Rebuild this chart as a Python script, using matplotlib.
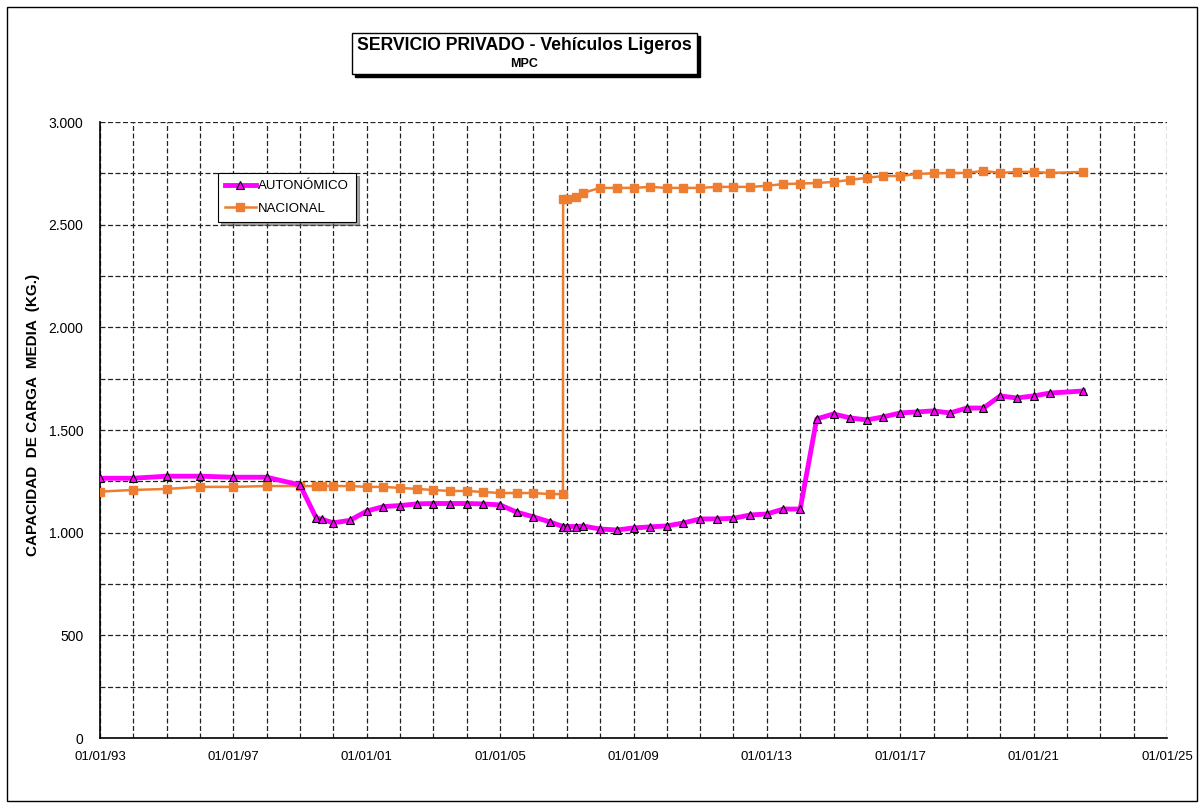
import datetime as dt

import matplotlib
matplotlib.use("Agg")
import matplotlib.pyplot as plt
import matplotlib.dates as mdates
from matplotlib.patches import Rectangle
from matplotlib.ticker import FuncFormatter, MultipleLocator, FixedLocator

plt.rcParams['font.family'] = ['Liberation Sans', 'DejaVu Sans']

# fechas de los datos (comunes a las dos series)
fechas = [
    "1993-01-01", "1994-01-01", "1995-01-01", "1996-01-01", "1997-01-01",
    "1998-01-01", "1999-01-01", "1999-06-28", "1999-08-30", "2000-01-01",
    "2000-07-01", "2001-01-01", "2001-07-01", "2002-01-01", "2002-07-01",
    "2003-01-01", "2003-07-01", "2004-01-01", "2004-07-01", "2005-01-01",
    "2005-07-01", "2006-01-01", "2006-07-01", "2006-11-20", "2006-11-22",
    "2007-01-01", "2007-04-10", "2007-07-01", "2008-01-01", "2008-07-01",
    "2009-01-01", "2009-07-01", "2010-01-01", "2010-07-01", "2011-01-01",
    "2011-07-01", "2012-01-01", "2012-07-01", "2013-01-01", "2013-07-01",
    "2014-01-01", "2014-07-01", "2015-01-01", "2015-07-01", "2016-01-01",
    "2016-07-01", "2017-01-01", "2017-07-01", "2018-01-01", "2018-07-01",
    "2019-01-01", "2019-07-01", "2020-01-01", "2020-07-01", "2021-01-01",
    "2021-07-01", "2022-07-01",
]

autonomico = [
    1265, 1265, 1275, 1275, 1270, 1270, 1232, 1071, 1065, 1048,
    1060, 1105, 1127, 1132, 1140, 1142, 1142, 1142, 1140, 1135,
    1100, 1077, 1052, 1030, 1030, 1030, 1030, 1032, 1018, 1013,
    1023, 1028, 1033, 1047, 1067, 1067, 1070, 1086, 1091, 1115,
    1115, 1554, 1578, 1559, 1549, 1564, 1583, 1588, 1593, 1583,
    1607, 1607, 1666, 1656, 1666, 1680, 1690,
]

nacional = [
    1200, 1208, 1213, 1223, 1223, 1227, 1227, 1227, 1227, 1227,
    1227, 1223, 1223, 1218, 1213, 1208, 1203, 1203, 1198, 1193,
    1193, 1193, 1188, 1188, 2625, 2627, 2633, 2655, 2679, 2679,
    2679, 2684, 2679, 2679, 2679, 2684, 2684, 2684, 2689, 2698,
    2700, 2703, 2708, 2718, 2728, 2737, 2737, 2747, 2750, 2752,
    2752, 2762, 2752, 2757, 2757, 2752, 2757,
]

# años de las etiquetas del eje x
anios_etiqueta = [1993, 1997, 2001, 2005, 2009, 2013, 2017, 2021, 2025]

x = [dt.datetime.strptime(f, "%Y-%m-%d") for f in fechas]

fig = plt.figure(figsize=(12.04, 8.08), dpi=100)
ax = fig.add_axes([100 / 1204, 1 - 738 / 808, 1067 / 1204, 616 / 808])

# marco exterior
fig.patches.append(Rectangle((7 / 1204, 7 / 808), 1190 / 1204, 794 / 808,
                             transform=fig.transFigure, fill=False,
                             edgecolor='black', linewidth=1.0))

ax.plot(x, autonomico, color='#FF00FF', linewidth=3.5, marker='^',
        markersize=6, markerfacecolor='#FF00FF', markeredgecolor='black',
        markeredgewidth=0.8, label='AUTONÓMICO', zorder=4)
ax.plot(x, nacional, color='#ED7D31', linewidth=1.8, marker='s',
        markersize=6, markeredgecolor='#ED7D31', label='NACIONAL', zorder=3)

ax.set_xlim(dt.datetime(1993, 1, 1), dt.datetime(2025, 1, 1))
ax.set_ylim(0, 3000)

ax.yaxis.set_major_locator(MultipleLocator(500))
ax.yaxis.set_minor_locator(MultipleLocator(250))
ax.yaxis.set_major_formatter(
    FuncFormatter(lambda v, p: f"{int(v):,}".replace(",", ".")))

ax.xaxis.set_major_locator(FixedLocator(
    [mdates.date2num(dt.datetime(a, 1, 1)) for a in anios_etiqueta]))
ax.xaxis.set_minor_locator(mdates.YearLocator(1, month=1, day=1))
ax.xaxis.set_major_formatter(mdates.DateFormatter("%d/%m/%y"))

ax.tick_params(which='both', length=0, labelsize=9.5, colors='black')
ax.tick_params(axis='x', pad=9)
ax.tick_params(axis='y', pad=12, labelsize=10)

ax.grid(which='both', color='#222222', linestyle=(0, (4, 2)), linewidth=0.9)
ax.set_axisbelow(True)

for s in ['top', 'right']:
    ax.spines[s].set_visible(False)
ax.spines['left'].set_linewidth(1.2)
ax.spines['bottom'].set_linewidth(1.2)

fig.text(33 / 1204, 1 - 415 / 808, "CAPACIDAD  DE CARGA  MEDIA  (KG.)",
         rotation=90, ha='center', va='center', fontsize=11,
         fontweight='bold')

# titulo en recuadro con sombra
fig.patches.append(Rectangle((355 / 1204, 1 - 77 / 808), 345 / 1204, 41 / 808,
                             transform=fig.transFigure, facecolor='black',
                             edgecolor='black'))
fig.patches.append(Rectangle((352 / 1204, 1 - 74 / 808), 345 / 1204, 41 / 808,
                             transform=fig.transFigure, facecolor='white',
                             edgecolor='black', linewidth=1.0))
fig.text(524 / 1204, 1 - 46 / 808, "SERVICIO PRIVADO - Vehículos Ligeros",
         ha='center', va='center', fontsize=12.7, fontweight='bold')
fig.text(524 / 1204, 1 - 64 / 808, "MPC", ha='center', va='center',
         fontsize=9, fontweight='bold')

leg = ax.legend(loc='upper left', bbox_to_anchor=(118 / 1067, 1 - 51 / 616),
                fontsize=9.5, frameon=True, fancybox=False, shadow=True,
                edgecolor='black', handlelength=2.3, handletextpad=0.2,
                borderpad=0.55, labelspacing=0.75, borderaxespad=0)
leg.get_frame().set_linewidth(0.8)

fig.savefig("out.png", dpi=100)
